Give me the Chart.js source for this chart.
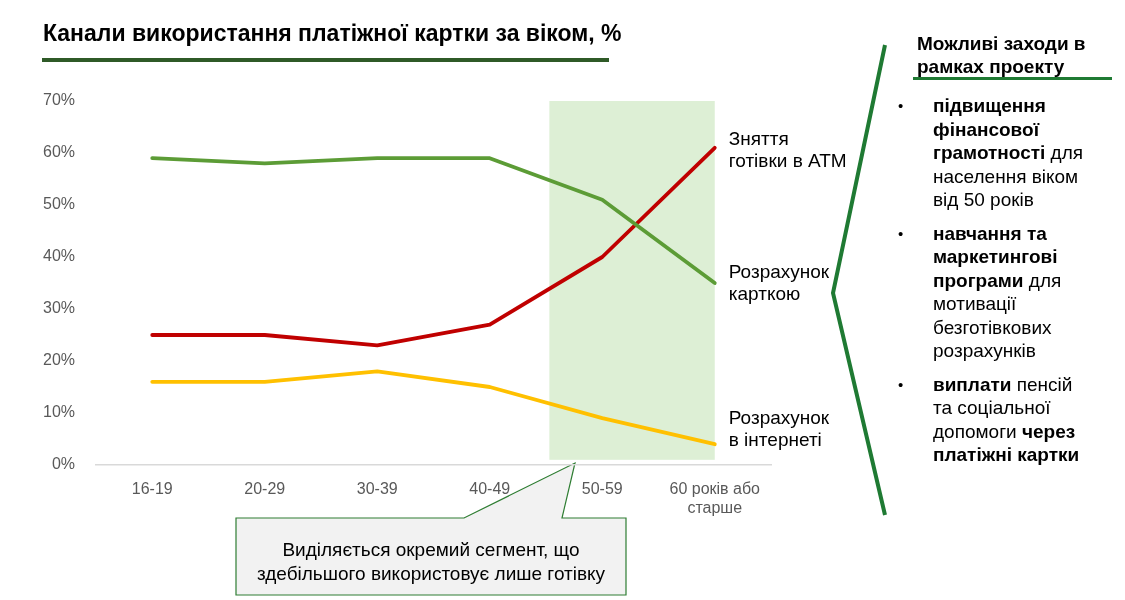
<!DOCTYPE html>
<html>
<head>
<meta charset="utf-8">
<script src="https://cdn.jsdelivr.net/npm/chart.js@4"></script>
<style>
  body { margin: 0; width: 1125px; height: 600px; background: #fff; position: relative; overflow: hidden;
         font-family: 'Liberation Sans', Arial, sans-serif; color: #000; }
  #wrap { position: absolute; left: 0; top: 0; width: 1125px; height: 600px; }
  .title { position: absolute; left: 43px; top: 20px; font-size: 23px; font-weight: bold; white-space: nowrap; }
  .title-line { position: absolute; left: 42px; top: 58px; width: 567px; height: 4px; background: #2f5a27; }
  .callout { position: absolute; left: 236px; top: 538px; width: 390px; text-align: center; font-size: 19px; line-height: 24px; }
  .side-head { position: absolute; left: 917px; top: 32px; font-size: 19px; font-weight: bold; line-height: 23px; }
  .side-line { position: absolute; left: 913px; top: 77px; width: 199px; height: 3px; background: #1f7a33; }
  .side { position: absolute; left: 898px; top: 94px; width: 220px; font-size: 19px; line-height: 23.5px; }
  .side .item { position: relative; padding-left: 35px; margin-bottom: 10px; }
  .side .item:before { content: '\2022'; position: absolute; left: 0; top: 0; font-size: 15px; }
  svg { position: absolute; left: 0; top: 0; }
</style>
</head>
<body>
<svg width="1125" height="600">
  <path d="M236,518 L464,518 L575,463 L562,518 L626,518 L626,595 L236,595 Z" fill="#f2f2f2" stroke="#2e7d32" stroke-width="1.2"/>
  <polyline points="885,45 833,293 885,515" fill="none" stroke="#1f7a33" stroke-width="4"/>
</svg>
<div id="wrap"><canvas id="chart"></canvas></div>
<div class="title">Канали використання платіжної картки за віком, %</div>
<div class="title-line"></div>
<div class="callout">Виділяється окремий сегмент, що<br>здебільшого використовує лише готівку</div>
<div class="side-head">Можливі заходи в<br>рамках проекту</div>
<div class="side-line"></div>
<div class="side">
  <div class="item"><b>підвищення<br>фінансової<br>грамотності</b> для<br>населення віком<br>від 50 років</div>
  <div class="item"><b>навчання та<br>маркетингові<br>програми</b> для<br>мотивації<br>безготівкових<br>розрахунків</div>
  <div class="item"><b>виплати</b> пенсій<br>та соціальної<br>допомоги <b>через<br>платіжні картки</b></div>
</div>
<script>
// age groups
const ageGroups = ['16-19', '20-29', '30-39', '40-49', '50-59', ['60 років або', 'старше']];

// shares, %
const cardPayment = [59, 58, 59, 59, 51, 35];
const atmCash = [25, 25, 23, 27, 40, 61];
const onlinePayment = [16, 16, 18, 15, 9, 4];

const seriesNames = [['Розрахунок', 'карткою'], ['Зняття', 'готівки в АТМ'], ['Розрахунок', 'в інтернеті']];
const seriesColors = ['#5c9c36', '#c00000', '#ffc000'];

// y offsets of the end labels relative to the last point
const labelShift = [1, 3, -14];

// shaded "50+" zone
const zonePlugin = {
    id: 'zone',
    beforeDatasetsDraw(chart) {
        const { ctx, scales: { x, y } } = chart;
        const x0 = x.getPixelForValue(3.53);
        const x1 = x.getPixelForValue(5);
        const y0 = y.getPixelForValue(70);
        const y1 = y.getPixelForValue(1);
        ctx.save();
        ctx.fillStyle = '#ddefd5';
        ctx.fillRect(x0, y0, x1 - x0, y1 - y0);
        ctx.restore();
    }
};

// series names at the end of each line
const endLabels = {
    id: 'endLabels',
    afterDatasetsDraw(chart) {
        const ctx = chart.ctx;
        ctx.save();
        ctx.font = '19px "Liberation Sans", Arial, sans-serif';
        ctx.fillStyle = '#000';
        ctx.textBaseline = 'middle';
        chart.data.datasets.forEach((ds, i) => {
            const meta = chart.getDatasetMeta(i);
            const pt = meta.data[meta.data.length - 1];
            const lines = seriesNames[i];
            const lh = 22;
            const top = pt.y + labelShift[i] - (lines.length - 1) * lh / 2;
            lines.forEach((t, j) => ctx.fillText(t, pt.x + 14, top + j * lh));
        });
        ctx.restore();
    }
};

new Chart(document.getElementById('chart'), {
    type: 'line',
    data: {
        labels: ageGroups,
        datasets: [
            { label: 'Розрахунок карткою', data: cardPayment, borderColor: seriesColors[0] },
            { label: 'Зняття готівки в АТМ', data: atmCash, borderColor: seriesColors[1] },
            { label: 'Розрахунок в інтернеті', data: onlinePayment, borderColor: seriesColors[2] }
        ]
    },
    options: {
        responsive: true,
        maintainAspectRatio: false,
        animation: false,
        devicePixelRatio: 1,
        layout: { padding: { left: 0, top: 101, right: 354, bottom: 75 } },
        elements: {
            line: { borderWidth: 3.8, tension: 0, borderCapStyle: 'round', borderJoinStyle: 'round' },
            point: { radius: 0 }
        },
        plugins: { legend: { display: false }, tooltip: { enabled: false } },
        scales: {
            x: {
                offset: true,
                grid: { display: false },
                border: { display: true, color: '#d9d9d9', width: 1.5 },
                ticks: { color: '#595959', font: { size: 16, family: 'Liberation Sans' }, padding: 7, maxRotation: 0 },
                afterFit(s) { s.height = 60; }
            },
            y: {
                min: 0, max: 70,
                grid: { display: false },
                border: { display: false },
                ticks: {
                    stepSize: 10, color: '#595959', padding: 13,
                    font: { size: 16, family: 'Liberation Sans' },
                    callback: v => v + '%'
                },
                afterFit(s) { s.width = 96; }
            }
        }
    },
    plugins: [zonePlugin, endLabels]
});
</script>
</body>
</html>
